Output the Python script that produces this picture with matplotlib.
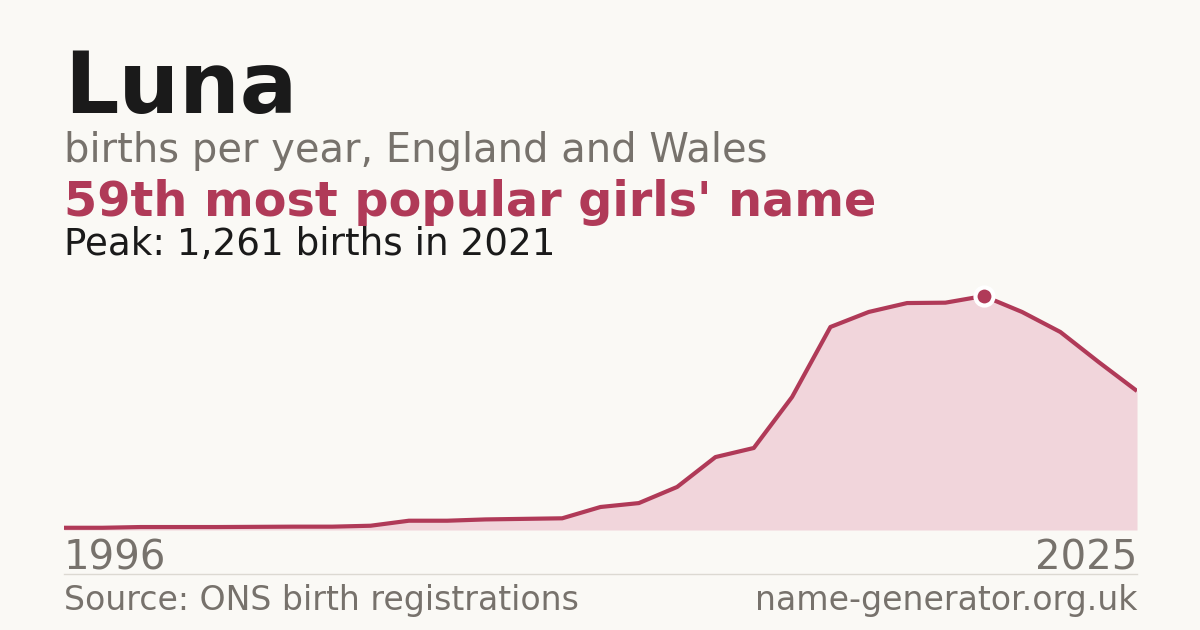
import numpy as np
import matplotlib.pyplot as plt

# births per year for "Luna", plotted by position (first and last year labelled)
births = [12, 12, 16, 16, 16, 17, 18, 18, 23, 50, 50, 57, 60, 63, 124,
          145, 232, 393, 442, 717, 1094, 1175, 1223, 1225, 1261, 1175,
          1067, 905, 749]
year_labels = ["1996", "2025"]
peak_idx = int(np.argmax(births))

BG = "#faf9f5"
RED = "#b03a58"
FILL = "#f1d5db"
GREY = "#77726c"
INK = "#1a1a1a"

W, H = 1200, 630
fig = plt.figure(figsize=(W / 100, H / 100), dpi=100, facecolor=BG)


def fy(py):
    # pixel row -> figure fraction
    return 1 - py / H


# plot area
left, right, bottom, top = 64, 1137, 530, 280
ax = fig.add_axes([left / W, fy(bottom), (right - left) / W, (bottom - top) / H])
ax.set_facecolor(BG)

x = np.arange(len(births))
ax.fill_between(x, births, 0, color=FILL, lw=0)
ax.plot(x, births, color=RED, lw=3.0, solid_joinstyle="round", solid_capstyle="butt")
ax.plot(x[peak_idx], births[peak_idx], "o", ms=13, color=RED,
        markeredgecolor="white", markeredgewidth=3, zorder=5)

ax.set_xlim(0, len(births) - 1)
ax.set_ylim(0, max(births) * 250 / 234)
ax.axhline(0, color="#dcd9d2", lw=1.2, zorder=0)
ax.axis("off")

# headings
fig.text(left / W, fy(113), "Luna", fontsize=61.5, fontweight="bold", color=INK, va="baseline")
fig.text(left / W, fy(162), "births per year, England and Wales", fontsize=28.8, color=GREY, va="baseline")
fig.text(left / W, fy(216), "59th most popular girls' name", fontsize=34.4, fontweight="bold", color=RED, va="baseline")
fig.text(left / W, fy(255), f"Peak: {max(births):,} births in 2021", fontsize=26.8, color=INK, va="baseline")

# x labels
fig.text(left / W, fy(569), year_labels[0], fontsize=28.9, color=GREY, va="baseline")
fig.text(right / W, fy(569), year_labels[-1], fontsize=28.9, color=GREY, va="baseline", ha="right")

# footer
fig.add_artist(plt.Line2D([left / W, right / W], [fy(574), fy(574)], color="#dcd9d2", lw=1))
fig.text(left / W, fy(610), "Source: ONS birth registrations", fontsize=23.9, color=GREY, va="baseline")
fig.text(right / W, fy(610), "name-generator.org.uk", fontsize=23.9, color=GREY, va="baseline", ha="right")

fig.savefig("out.png", dpi=100, facecolor=BG)
